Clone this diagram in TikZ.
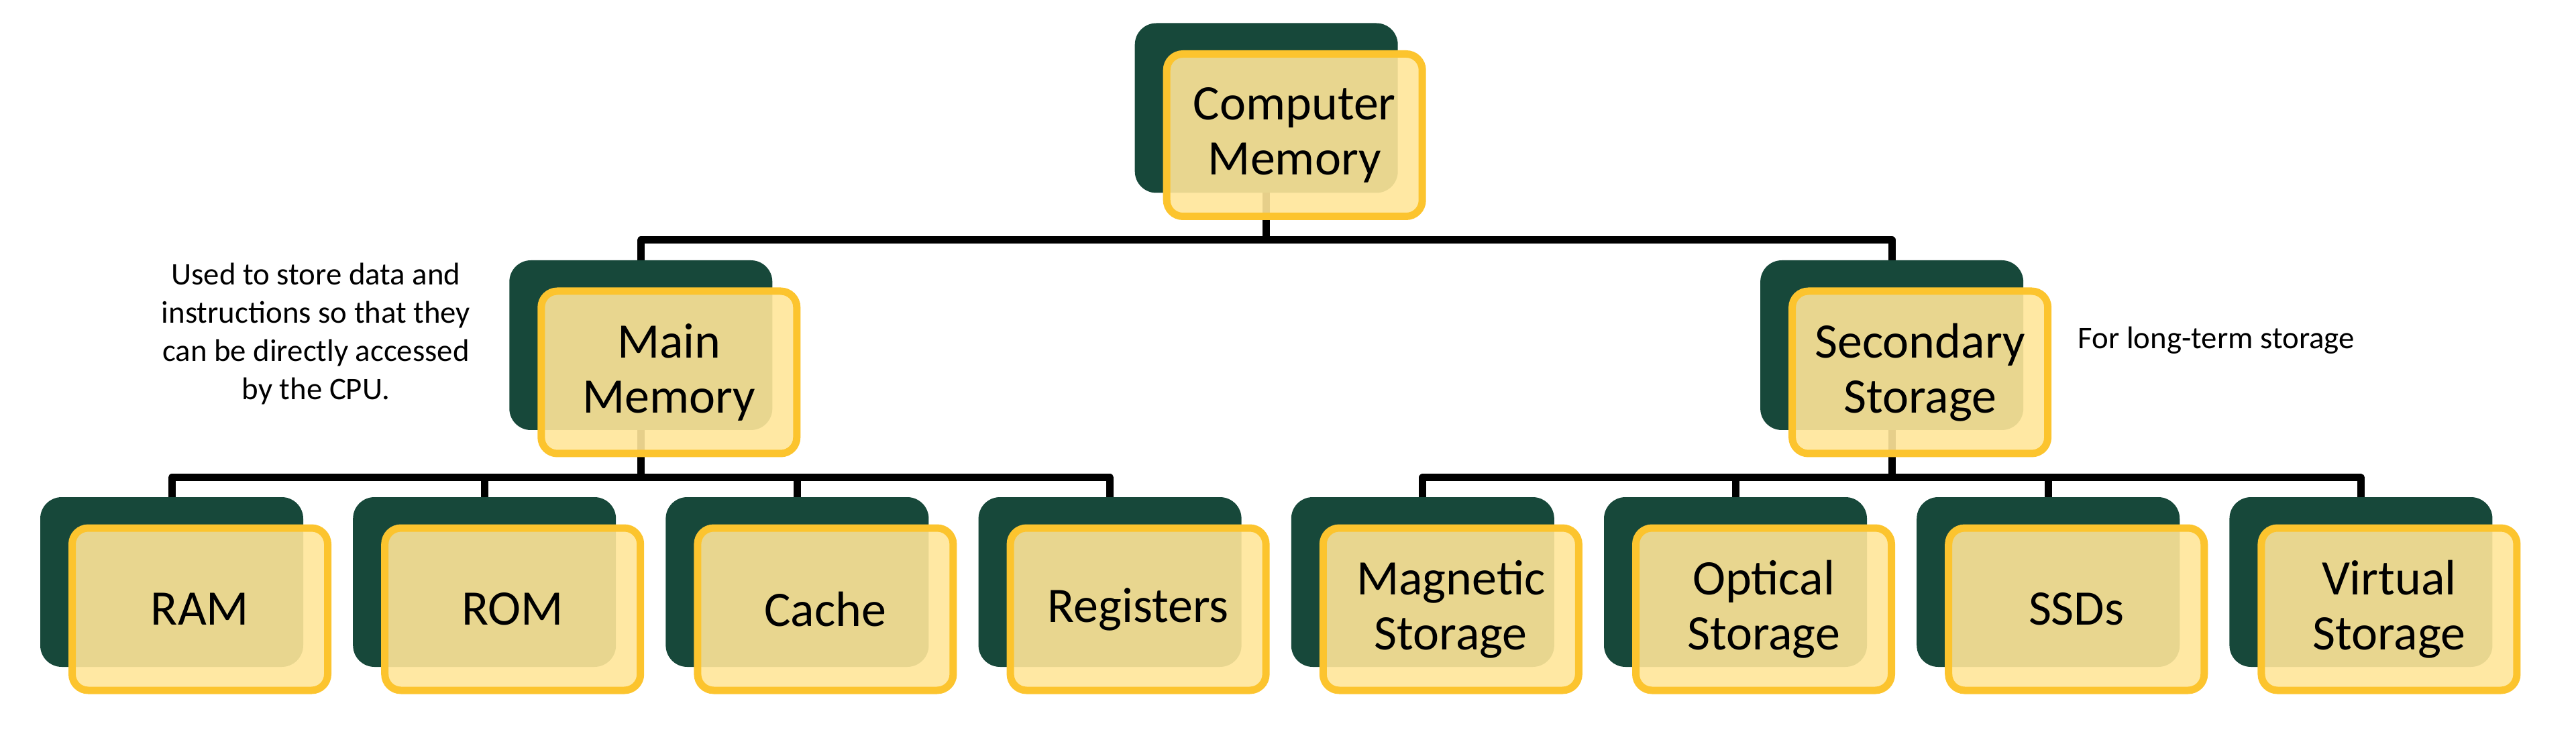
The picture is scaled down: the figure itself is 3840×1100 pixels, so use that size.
\documentclass[tikz,border=0pt]{standalone}
\usepackage{fontspec}
\setmainfont{Carlito}
\usetikzlibrary{calc}
\pgfdeclarelayer{background}
\pgfsetlayers{background,main}
\definecolor{dgreen}{HTML}{17483A}
\definecolor{ystroke}{HTML}{FCC42E}
\definecolor{yfill}{HTML}{FFE699}
\begin{document}
\begin{tikzpicture}[x=0.25pt,y=-0.25pt,
  back/.style={fill=dgreen, draw=none, rounded corners=8pt, minimum width=98pt, minimum height=63.25pt, inner sep=0pt, outer sep=0pt},
  front/.style={fill=yfill, fill opacity=0.9, text opacity=1, draw=ystroke, draw opacity=1, line width=2.75pt, rounded corners=6pt, minimum width=95.25pt, minimum height=60.5pt, inner sep=0pt, outer sep=0pt, align=center, font=\fontsize{18.5pt}{20.5pt}\selectfont},
  link/.style={draw=black, line width=2.75pt, line join=round},
  note/.style={font=\fontsize{11.7pt}{14.25pt}\selectfont, align=center, inner sep=0pt}]
\useasboundingbox (0,0) rectangle (3840,1100);

% level 0
\node[back] (gtop) at (1887.7,161) {};
\node[front] (top) at ($(gtop)+(42,40.5)$) {Computer\\Memory};
% level 1
\node[back] (gmain) at (955.3,514.5) {};
\node[front] (main) at ($(gmain)+(42,40.5)$) {Main\\Memory};
\node[back] (gsec) at (2820.1,514.5) {};
\node[front] (sec) at ($(gsec)+(42,40.5)$) {Secondary\\Storage};
% level 2
\node[back] (g1) at (256,867.5) {};
\node[front] (ram) at ($(g1)+(42,40.5)$) {RAM};
\node[back] (g2) at (722.2,867.5) {};
\node[front] (rom) at ($(g2)+(42,40.5)$) {ROM};
\node[back] (g3) at (1188.4,867.5) {};
\node[front] (cache) at ($(g3)+(42,40.5)$) {Cache};
\node[back] (g4) at (1654.6,867.5) {};
\node[front] (reg) at ($(g4)+(42,40.5)$) {Registers};
\node[back] (g5) at (2120.8,867.5) {};
\node[front] (mag) at ($(g5)+(42,40.5)$) {Magnetic\\Storage};
\node[back] (g6) at (2587,867.5) {};
\node[front] (opt) at ($(g6)+(42,40.5)$) {Optical\\Storage};
\node[back] (g7) at (3053.2,867.5) {};
\node[front] (ssd) at ($(g7)+(42,40.5)$) {SSDs};
\node[back] (g8) at (3519.4,867.5) {};
\node[front] (virt) at ($(g8)+(42,40.5)$) {Virtual\\Storage};

% notes
\node[note] (noteMain) at (471,498) {Used to store data and\\instructions so that they\\can be directly accessed\\by the CPU.};
\node[note, anchor=base west] (noteSec) at (3097,520) {For long-term storage};

% connectors
\coordinate (b1) at (1887.7,358);
\coordinate (b2) at (955.3,712);
\coordinate (b3) at (2820.1,712);
\begin{pgfonlayer}{background}
\draw[link] (gtop.south) -- (b1);
\draw[link] (gmain.north) |- (b1) -| (gsec.north);
\draw[link] (gmain.south) -- (b2);
\draw[link] (g1.north) |- (b2) -| (g4.north);
\draw[link] (g2.north) -- (g2.north |- b2);
\draw[link] (g3.north) -- (g3.north |- b2);
\draw[link] (gsec.south) -- (b3);
\draw[link] (g5.north) |- (b3) -| (g8.north);
\draw[link] (g6.north) -- (g6.north |- b3);
\draw[link] (g7.north) -- (g7.north |- b3);
\end{pgfonlayer}
\end{tikzpicture}
\end{document}
